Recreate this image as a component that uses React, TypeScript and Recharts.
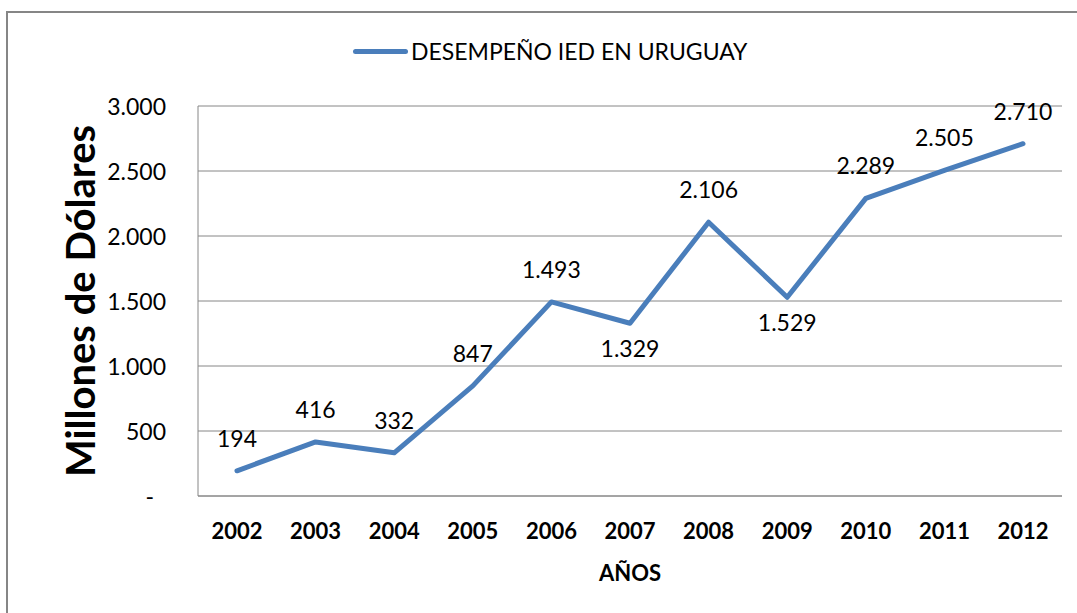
import React from 'react';
import { LineChart, Line, XAxis, YAxis, CartesianGrid, LabelList } from 'recharts';

// Inversión extranjera directa en Uruguay, millones de dólares
const years = ['2002', '2003', '2004', '2005', '2006', '2007', '2008', '2009', '2010', '2011', '2012'];
const ied = [194, 416, 332, 847, 1493, 1329, 2106, 1529, 2289, 2505, 2710];
const yTicks = [0, 500, 1000, 1500, 2000, 2500, 3000];

const seriesName = 'DESEMPEÑO IED EN URUGUAY';
// labels that Excel placed under the line
const labelsBelow = new Set(['2007', '2009']);

const data = years.map((year, i) => ({ year, value: ied[i] }));

const FONT = 'Lato, "Open Sans", sans-serif';
const BLUE = '#4a7ebb';
const GRAY = '#868686';

const fmt = (v: number) => v.toString().replace(/\B(?=(\d{3})+(?!\d))/g, '.');

const YTick = (props: any) => {
  const { x, y, payload } = props;
  const isZero = payload.value === 0;
  return (
    <text
      x={isZero ? x - 12 : x}
      y={y}
      textAnchor="end"
      dominantBaseline="central"
      fontSize={23}
      fontFamily={FONT}
      fill="#000"
    >
      {isZero ? '-' : fmt(payload.value)}
    </text>
  );
};

const ValueLabel = (props: any) => {
  const { x, y, value, index } = props;
  const below = labelsBelow.has(years[index]);
  return (
    <text
      x={x}
      y={below ? y + 25 : y - 33}
      textAnchor="middle"
      dominantBaseline="central"
      fontSize={23}
      fontFamily={FONT}
      fill="#000"
    >
      {fmt(value)}
    </text>
  );
};

const YTitle = (props: any) => {
  const { viewBox } = props;
  const cx = viewBox.x + 80;
  const cy = viewBox.y + viewBox.height / 2;
  return (
    <text
      x={cx}
      y={cy}
      transform={`rotate(-90, ${cx}, ${cy})`}
      textAnchor="middle"
      dominantBaseline="central"
      fontSize={40}
      fontWeight="bold"
      fontFamily={FONT}
      fill="#000"
    >
      Millones de Dólares
    </text>
  );
};

const App: React.FC = () => {
  return (
    <div style={{ position: 'absolute', left: 0, top: 0, width: 1077, height: 613, overflow: 'hidden', background: '#fff' }}>
      <div
        style={{
          position: 'absolute',
          left: 6,
          top: 11,
          width: 1090,
          height: 620,
          border: `2px solid ${GRAY}`,
        }}
      />
      <div
        style={{
          position: 'absolute',
          left: 353,
          top: 37,
          display: 'flex',
          alignItems: 'center',
          fontFamily: FONT,
          fontSize: 23,
          color: '#000',
          whiteSpace: 'nowrap',
        }}
      >
        <span style={{ display: 'inline-block', width: 55, height: 5, borderRadius: 3, background: BLUE, marginRight: 3 }} />
        {seriesName}
      </div>
      <LineChart
        width={1077}
        height={613}
        data={data}
        margin={{ top: 106, right: 15, bottom: 0, left: 0 }}
        style={{ position: 'absolute', left: 0, top: 0 }}
      >
        <CartesianGrid vertical={false} stroke={GRAY} strokeWidth={1} />
        <XAxis
          dataKey="year"
          height={117}
          padding={{ left: 39, right: 39 }}
          axisLine={{ stroke: GRAY }}
          tickLine={false}
          tickSize={0}
          tickMargin={27}
          tick={{ fontSize: 22, fontWeight: 'bold', fontFamily: FONT, fill: '#000' }}
          label={{ value: 'AÑOS', position: 'insideBottom', offset: 32, fontSize: 22, fontWeight: 'bold', fontFamily: FONT, fill: '#000' }}
        />
        <YAxis
          width={198}
          domain={[0, 3000]}
          ticks={yTicks}
          interval={0}
          axisLine={{ stroke: GRAY }}
          tickLine={false}
          tickSize={0}
          tickMargin={32}
          tick={<YTick />}
          label={{ content: <YTitle /> }}
        />
        <Line
          type="linear"
          dataKey="value"
          name={seriesName}
          stroke={BLUE}
          strokeWidth={5}
          strokeLinecap="round"
          strokeLinejoin="round"
          dot={false}
          activeDot={false}
          isAnimationActive={false}
        >
          <LabelList dataKey="value" content={<ValueLabel />} />
        </Line>
      </LineChart>
    </div>
  );
};

export default App;
